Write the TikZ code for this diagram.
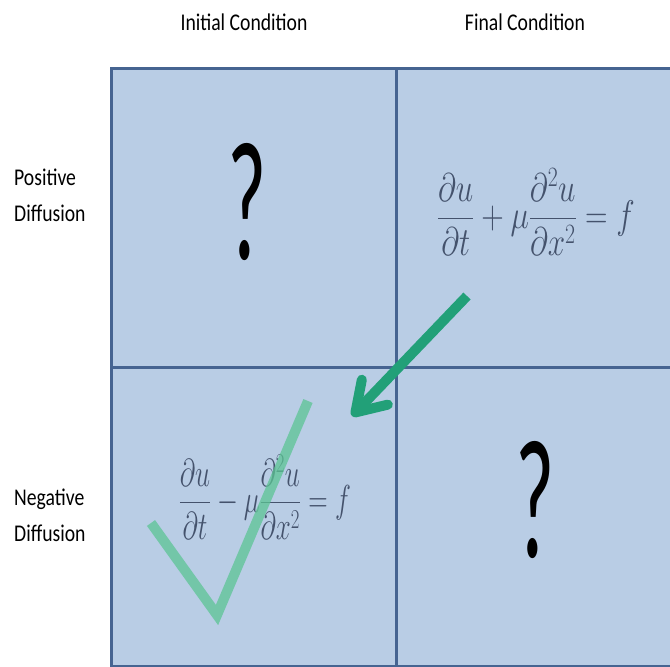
\RequirePackage{fix-cm}
\documentclass[tikz,border=0pt]{standalone}
\usepackage{amsmath}
\usepackage{fontspec}
\setmainfont[FakeStretch=0.82]{Carlito}
\newfontfamily\qmfont[FakeStretch=0.5]{Carlito}
\usetikzlibrary{arrows.meta, positioning, calc}
\definecolor{cellblue}{RGB}{185,205,229}
\definecolor{gridline}{RGB}{70,100,145}
\definecolor{eqgrey}{RGB}{68,82,108}
\definecolor{arrgreen}{RGB}{34,160,120}
\definecolor{tickgreen}{RGB}{92,196,148}
\tikzset{
  cell/.style ={rectangle, draw=gridline, line width=3pt, fill=cellblue,
                minimum width=285pt, minimum height=299pt, inner sep=0pt},
  hdr/.style  ={font=\fontsize{24}{28}\selectfont, text=black, inner sep=0pt},
  lbl/.style  ={font=\fontsize{24}{36}\selectfont, align=left, anchor=west, inner sep=0pt},
  eqn/.style  ={text=eqgrey, inner sep=0pt},
  qm/.style   ={font=\qmfont\fontsize{170}{170}\selectfont, anchor=base, inner sep=0pt},
  ar/.style   ={-{Straight Barb[round, length=28pt, width=36pt]}, draw=arrgreen, line width=10pt},
  tick/.style ={draw=tickgreen, line width=10pt, opacity=0.75},
}
\begin{document}
\begin{tikzpicture}[x=1pt, y=-1pt]
\useasboundingbox (0,0) rectangle (670,667);
\begin{scope}
\clip (0,0) rectangle (670,667);
% grid of the four cases
\node[cell] (ip) at (253.5,217.5) {};
\node[cell] (fp) at (538.5,217.5) {};
\node[cell] (in) at (253.5,516.5) {};
\node[cell] (fn) at (538.5,516.5) {};
\end{scope}
% column and row titles
\node[hdr] (hinit) at (244,22) {Initial Condition};
\node[hdr] (hfin) at (525,22) {Final Condition};
\node[lbl] (lpos) at (14,195) {Positive\\Diffusion};
\node[lbl] (lneg) at (14,515) {Negative\\Diffusion};
% cell contents
\node[qm] (qip) at (247,259) {?};
\node[qm] (qfn) at (535,557) {?};
\node[eqn, font=\fontsize{40}{46}\selectfont] (eqfp) at (536,212)
  {\scalebox{0.78}[1]{$\displaystyle \frac{\partial u}{\partial t}+\mu\frac{\partial^2 u}{\partial x^2}=f$}};
\node[eqn, font=\fontsize{39}{45}\selectfont] (eqin) at (265,497)
  {\scalebox{0.69}[1]{$\displaystyle \frac{\partial u}{\partial t}-\mu\frac{\partial^2 u}{\partial x^2}=f$}};
% backward arrow and tick
\coordinate (arS) at (467,296);
\coordinate (arE) at (352,416);
\draw[ar] (arS) -- (arE);
\draw[tick] (151,523) -- (217,615) -- (308,401);
\end{tikzpicture}
\end{document}
